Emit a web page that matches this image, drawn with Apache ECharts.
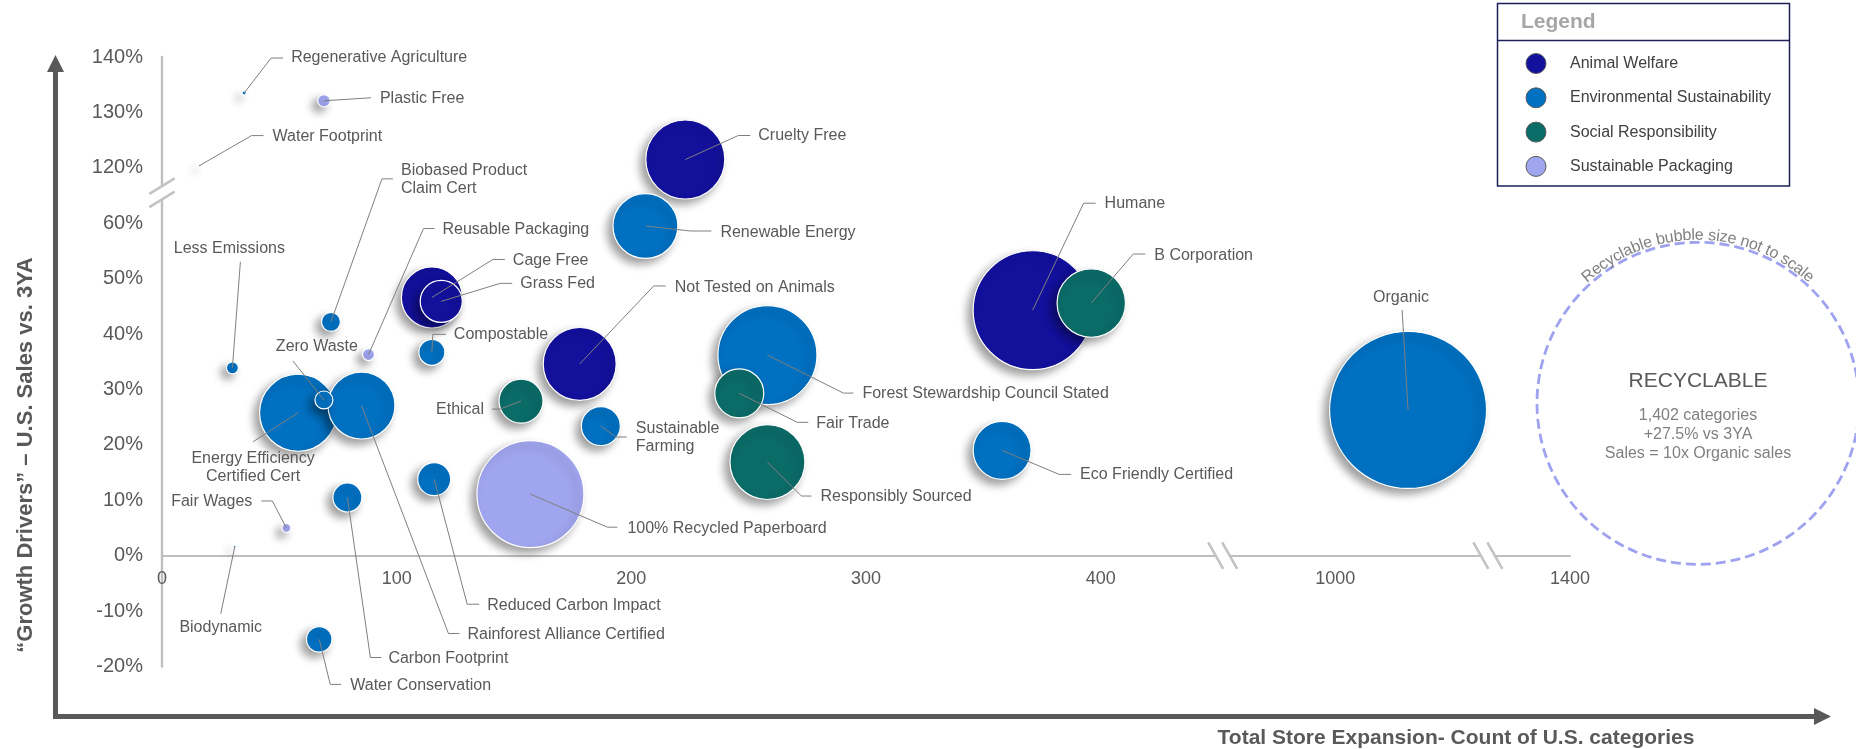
<!DOCTYPE html>
<html>
<head>
<meta charset="utf-8">
<script src="https://cdn.jsdelivr.net/npm/echarts@6/dist/echarts.min.js"></script>
<style>
  html, body { margin: 0; padding: 0; background: #ffffff; }
  #chart { width: 1856px; height: 749px; }
</style>
</head>
<body>
<div id="chart"></div>
<script>
// ---------- data ----------
// Tick labels; each sits one even step along the drawn (broken) axis
const xTickLabels = [0, 100, 200, 300, 400, 1000, 1400];
const yTickLabels = [-20, -10, 0, 10, 20, 30, 40, 50, 60, 120, 130, 140];

const groupNames = ['Animal Welfare', 'Environmental Sustainability', 'Social Responsibility', 'Sustainable Packaging'];

const claimNames = [
  'Cruelty Free', 'Humane', 'Cage Free', 'Grass Fed', 'Not Tested on Animals',
  'Regenerative Agriculture', 'Water Footprint', 'Biobased Product Claim Cert', 'Less Emissions',
  'Compostable', 'Zero Waste', 'Energy Efficiency Certified Cert', 'Rainforest Alliance Certified',
  'Reduced Carbon Impact', 'Carbon Footprint', 'Water Conservation', 'Biodynamic', 'Renewable Energy',
  'Forest Stewardship Council Stated', 'Sustainable Farming', 'Eco Friendly Certified', 'Organic',
  'Ethical', 'B Corporation', 'Fair Trade', 'Responsibly Sourced',
  'Plastic Free', 'Reusable Packaging', 'Fair Wages', '100% Recycled Paperboard'
];
// index into groupNames
const claimGroup = [
  0, 0, 0, 0, 0,
  1, 1, 1, 1, 1, 1, 1, 1, 1, 1, 1, 1, 1, 1, 1, 1, 1,
  2, 2, 2, 2,
  3, 3, 3, 3
];
// total store expansion: count of U.S. categories
const categoryCount = [
  223, 371, 115, 119, 178,
  35, 16, 72, 30, 115, 69, 58, 85, 116, 79, 67, 31, 206, 258, 187, 358, 1124,
  153, 396, 246, 258,
  69, 88, 53, 157
];
// U.S. sales growth vs. 3YA, %
const salesGrowth = [
  121.5, 44.3, 46.6, 45.9, 34.6,
  133.5, 120.4, 42.2, 33.9, 36.7, 28.1, 25.8, 27.1, 13.8, 10.5, -15.1, 1.6, 59.5, 36.2, 23.4, 19.0, 26.3,
  27.9, 45.6, 29.3, 16.9,
  132.1, 36.3, 5.0, 11.1
];
// sales, indexed to Organic = 100 (bubble area)
const salesIndex = [
  25.3, 57.4, 15.1, 7.2, 21.6,
  0.07, 0.02, 1.46, 0.58, 2.74, 1.31, 24.1, 18.2, 4.42, 3.41, 2.64, 0.03, 17.1, 39.8, 6.17, 13.6, 100,
  7.85, 19.0, 9.74, 22.8,
  0.63, 0.58, 0.33, 46.4
];

// The off-scale Recyclable bubble
const recyclable = { categories: 1402, growth: 27.5, salesVsOrganic: 10 };

// ---------- styling & layout ----------
const FONT = '"Liberation Sans", Arial, Helvetica, sans-serif';
const groupColors = ['#13109c', '#0070c0', '#0b6b67', '#a0a5ef'];
const TEXT = '#595959';
const ORGANIC_DIAMETER = 157;           // px for sales index 100
const bubbleSize = s => ORGANIC_DIAMETER * Math.sqrt(s / 100);

// places of the "//" break marks, in axis steps
const xBreakAt = [452, 565];
const yBreakAt = [65.5];

// label leader lines: bend points and text anchor, px relative to the bubble centre
const callouts = {
  'Regenerative Agriculture':        { line: [[27, -35], [39, -35]], at: [47, -35], align: 'left' },
  'Plastic Free':                    { line: [[47, -3]], at: [56, -2], align: 'left' },
  'Water Footprint':                 { line: [[52, -30], [64, -30]], at: [73, -29], align: 'left' },
  'Biobased Product Claim Cert':     { line: [[51, -143], [62, -143]], at: [70, -142], align: 'left', wrap: 2 },
  'Reusable Packaging':              { line: [[55, -126], [66, -126]], at: [74, -125], align: 'left' },
  'Cage Free':                       { line: [[61, -38], [73, -38]], at: [81, -37], align: 'left' },
  'Grass Fed':                       { line: [[59, -18], [71, -18]], at: [79, -18], align: 'left' },
  'Compostable':                     { line: [[1, -18], [14, -18]], at: [22, -18], align: 'left' },
  'Less Emissions':                  { line: [[8, -106]], at: [-3, -119], align: 'center' },
  'Zero Waste':                      { line: [[-31, -39]], at: [-7, -53], align: 'center' },
  'Energy Efficiency Certified Cert':{ line: [[-45, 29]], at: [-45, 55], align: 'center', wrap: 2 },
  'Rainforest Alliance Certified':   { line: [[87, 228], [98, 228]], at: [106, 229], align: 'left' },
  'Reduced Carbon Impact':           { line: [[33, 125], [45, 125]], at: [53, 126], align: 'left' },
  'Carbon Footprint':                { line: [[23, 160], [34, 160]], at: [41, 161], align: 'left' },
  'Water Conservation':              { line: [[11, 45], [22, 45]], at: [31, 46], align: 'left' },
  'Fair Wages':                      { line: [[-14, -27], [-25, -27]], at: [-34, -26], align: 'right' },
  'Biodynamic':                      { line: [[-14, 67]], at: [-14, 81], align: 'center' },
  'Ethical':                         { line: [[-21, 8], [-29, 8]], at: [-37, 9], align: 'right' },
  '100% Recycled Paperboard':        { line: [[77, 33], [87, 33]], at: [97, 34], align: 'left' },
  'Cruelty Free':                    { line: [[53, -24], [65, -24]], at: [73, -24], align: 'left' },
  'Renewable Energy':                { line: [[45, 5], [66, 5]], at: [75, 7], align: 'left' },
  'Not Tested on Animals':           { line: [[74, -78], [86, -78]], at: [95, -76], align: 'left' },
  'Humane':                          { line: [[51, -107], [63, -107]], at: [72, -107], align: 'left' },
  'B Corporation':                   { line: [[42, -49], [54, -49]], at: [63, -47], align: 'left' },
  'Forest Stewardship Council Stated':{ line: [[76, 38], [86, 38]], at: [95, 38], align: 'left' },
  'Fair Trade':                      { line: [[58, 29], [69, 29]], at: [77, 30], align: 'left' },
  'Sustainable Farming':             { line: [[15, 11], [26, 11]], at: [35, 12], align: 'left', wrap: 1 },
  'Responsibly Sourced':             { line: [[34, 34], [44, 34]], at: [53, 35], align: 'left' },
  'Eco Friendly Certified':          { line: [[57, 24], [69, 24]], at: [78, 24], align: 'left' },
  'Organic':                         { line: [[-6, -100]], at: [-7, -112], align: 'center' }
};

// ---------- broken-axis scales ----------
// Real values are placed piecewise-linearly between the evenly spaced ticks.
function onTickScale(v, ticks, step, origin) {
  const n = ticks.length;
  let i = 0;
  while (i < n - 2 && v > ticks[i + 1]) i++;
  const t = (v - ticks[i]) / (ticks[i + 1] - ticks[i]);
  return origin + (i + t) * step;
}
const X_STEP = 100, Y_STEP = 10, Y_ORIGIN = yTickLabels[0];
const xPos = v => onTickScale(v, xTickLabels, X_STEP, 0);
const yPos = v => onTickScale(v, yTickLabels, Y_STEP, Y_ORIGIN);

function wrapName(name, words) {
  if (!words) return name;
  const w = name.split(' ');
  return w.slice(0, words).join(' ') + '\n' + w.slice(words).join(' ');
}

// ---------- series ----------
const bubbleSeries = groupNames.map((g, gi) => {
  const items = [];
  claimNames.forEach((n, i) => {
    if (claimGroup[i] === gi) items.push({ name: n, value: [xPos(categoryCount[i]), yPos(salesGrowth[i]), salesIndex[i]] });
  });
  items.sort((a, b) => b.value[2] - a.value[2]); // small bubbles drawn on top
  return {
    name: g,
    type: 'scatter',
    z: 2,
    clip: false,
    symbol: 'circle',
    symbolSize: v => bubbleSize(v[2]),
    itemStyle: {
      color: groupColors[gi],
      borderColor: '#ffffff',
      borderWidth: 1.2,
      opacity: 1,
      shadowBlur: 9,
      shadowColor: 'rgba(0,0,0,0.38)',
      shadowOffsetX: -5,
      shadowOffsetY: 5
    },
    emphasis: { disabled: true },
    data: items
  };
});

const calloutSeries = {
  type: 'custom',
  name: 'callouts',
  z: 5,
  silent: true,
  clip: false,
  encode: { x: 0, y: 1 },
  data: claimNames.map((n, i) => [xPos(categoryCount[i]), yPos(salesGrowth[i]), i]),
  renderItem(params, api) {
    const i = api.value(2);
    const name = claimNames[i];
    const c = callouts[name];
    const p = api.coord([api.value(0), api.value(1)]);
    const pts = [p].concat(c.line.map(o => [p[0] + o[0], p[1] + o[1]]));
    return {
      type: 'group',
      children: [
        { type: 'polyline', shape: { points: pts }, style: { stroke: '#7f7f7f', lineWidth: 1, fill: null } },
        {
          type: 'text',
          style: {
            text: wrapName(name, c.wrap),
            x: p[0] + c.at[0], y: p[1] + c.at[1],
            align: c.align, verticalAlign: 'middle',
            fill: TEXT, fontSize: 16, fontFamily: FONT, lineHeight: 18
          }
        }
      ]
    };
  }
};

const breakSeries = {
  type: 'custom',
  name: 'breaks',
  z: 4,
  silent: true,
  clip: false,
  encode: { x: 0, y: 1 },
  data: xBreakAt.map(d => [d, 0, 0]).concat(yBreakAt.map(d => [0, d, 1])),
  renderItem(params, api) {
    const p = api.coord([api.value(0), api.value(1)]);
    const isX = api.value(2) === 0;
    const stroke = { stroke: '#c3c3c3', lineWidth: 2.6 };
    let a, b;
    if (isX) {
      // two steep slashes across the horizontal axis
      const hw = 7.5, hh = 13.3, off = 7;
      a = [[p[0] - off - hw, p[1] - hh], [p[0] - off + hw, p[1] + hh]];
      b = [[p[0] + off - hw, p[1] - hh], [p[0] + off + hw, p[1] + hh]];
    } else {
      // two shallow slashes across the vertical axis
      const hw = 12.6, hh = 7.7, off = 6.6;
      a = [[p[0] - hw, p[1] - off + hh], [p[0] + hw, p[1] - off - hh]];
      b = [[p[0] - hw, p[1] + off + hh], [p[0] + hw, p[1] + off - hh]];
    }
    const gapPoly = [a[0], a[1], b[1], b[0]];
    return {
      type: 'group',
      children: [
        { type: 'polygon', shape: { points: gapPoly }, style: { fill: '#ffffff', stroke: null } },
        { type: 'line', shape: { x1: a[0][0], y1: a[0][1], x2: a[1][0], y2: a[1][1] }, style: stroke },
        { type: 'line', shape: { x1: b[0][0], y1: b[0][1], x2: b[1][0], y2: b[1][1] }, style: stroke }
      ]
    };
  }
};

// ---------- chart ----------
const chart = echarts.init(document.getElementById('chart'), null, { renderer: 'canvas' });
const GRID = { left: 162, right: 286, top: 57, bottom: 82.5 };

chart.setOption({
  backgroundColor: '#ffffff',
  animation: false,
  textStyle: { fontFamily: FONT },
  grid: Object.assign({ containLabel: false, outerBoundsMode: 'none' }, GRID),
  xAxis: {
    type: 'value',
    min: 0,
    max: (xTickLabels.length - 1) * X_STEP,
    interval: X_STEP,
    axisLine: { show: true, onZero: false, lineStyle: { color: '#bfbfbf', width: 2 } },
    axisTick: { show: false },
    splitLine: { show: false },
    axisLabel: {
      margin: 14, fontSize: 18, color: TEXT, fontFamily: FONT,
      showMinLabel: true, showMaxLabel: true,
      formatter: v => String(xTickLabels[Math.round(v / X_STEP)])
    }
  },
  yAxis: {
    type: 'value',
    min: Y_ORIGIN,
    max: Y_ORIGIN + (yTickLabels.length - 1) * Y_STEP,
    interval: Y_STEP,
    axisLine: { show: true, onZero: false, lineStyle: { color: '#bfbfbf', width: 2.4 } },
    axisTick: { show: false },
    splitLine: { show: false },
    axisLabel: {
      margin: 19, fontSize: 20, color: TEXT, fontFamily: FONT,
      showMinLabel: true, showMaxLabel: true,
      formatter: v => yTickLabels[Math.round((v - Y_ORIGIN) / Y_STEP)] + '%'
    }
  },
  legend: {
    data: groupNames,
    orient: 'vertical',
    left: 1525.5,
    top: 53,
    padding: 0,
    itemWidth: 20,
    itemHeight: 20,
    itemGap: 13.3,
    icon: 'circle',
    selectedMode: false,
    textStyle: { fontSize: 16, color: '#404040', fontFamily: FONT, padding: [0, 0, 0, 19] },
    itemStyle: { borderColor: '#5a5a5a', borderWidth: 1, shadowBlur: 0, shadowOffsetX: 0, shadowOffsetY: 0 }
  },
  series: bubbleSeries.concat([breakSeries, calloutSeries])
});

// Lift the category axis so it crosses the value axis at 0%
const zeroY = chart.convertToPixel({ gridIndex: 0 }, [0, 0])[1];
const gridBottomY = 749 - GRID.bottom;
chart.setOption({ xAxis: { offset: zeroY - gridBottomY } });

// ---------- annotations ----------
const recY = chart.convertToPixel({ gridIndex: 0 }, [0, yPos(recyclable.growth)])[1];
const recX = 1698, recR = 161;

// curved caption above the Recyclable bubble
const arcText = 'Recyclable bubble size not to scale';
const measureCtx = document.createElement('canvas').getContext('2d');
measureCtx.font = '16px ' + FONT;
const arcR = 168;
const widths = Array.from(arcText).map(ch => measureCtx.measureText(ch).width);
const total = widths.reduce((s, w) => s + w, 0);
let acc = 0;
const arcChars = Array.from(arcText).map((ch, k) => {
  const theta = (acc + widths[k] / 2 - total / 2) / arcR;
  acc += widths[k];
  return {
    type: 'text',
    x: recX + arcR * Math.sin(theta),
    y: recY - arcR * Math.cos(theta),
    rotation: -theta,
    silent: true,
    style: { text: ch, fill: '#808080', fontSize: 16, fontFamily: FONT, align: 'center', verticalAlign: 'middle' }
  };
});

const fmtInt = n => n.toLocaleString('en-US');
const AXIS_DARK = '#595959';

chart.setOption({
  graphic: {
    elements: [
      // axis arrows
      { type: 'line', silent: true, shape: { x1: 55.5, y1: 719, x2: 55.5, y2: 70 }, style: { stroke: AXIS_DARK, lineWidth: 5 } },
      { type: 'polygon', silent: true, shape: { points: [[47, 72], [64, 72], [55.5, 55]] }, style: { fill: AXIS_DARK } },
      { type: 'line', silent: true, shape: { x1: 53, y1: 716.5, x2: 1816, y2: 716.5 }, style: { stroke: AXIS_DARK, lineWidth: 5 } },
      { type: 'polygon', silent: true, shape: { points: [[1814, 708], [1814, 725], [1831, 716.5]] }, style: { fill: AXIS_DARK } },
      // axis titles
      {
        type: 'text', silent: true, x: 26, y: 455, rotation: Math.PI / 2,
        style: { text: '\u201CGrowth Drivers\u201D \u2013 U.S. Sales vs. 3YA', fill: TEXT, fontSize: 22, fontWeight: 'bold', fontFamily: FONT, align: 'center', verticalAlign: 'middle' }
      },
      {
        type: 'text', silent: true, x: 1456, y: 738,
        style: { text: 'Total Store Expansion- Count of U.S. categories', fill: TEXT, fontSize: 21, fontWeight: 'bold', fontFamily: FONT, align: 'center', verticalAlign: 'middle' }
      },
      // legend frame
      { type: 'rect', silent: true, z: -1, shape: { x: 1497.5, y: 3.5, width: 292, height: 182.5 }, style: { fill: '#ffffff', stroke: '#1e1e5a', lineWidth: 1.5 } },
      { type: 'line', silent: true, shape: { x1: 1497.5, y1: 40.5, x2: 1789.5, y2: 40.5 }, style: { stroke: '#1e1e5a', lineWidth: 1.5 } },
      { type: 'text', silent: true, x: 1521, y: 22, style: { text: 'Legend', fill: '#a6a6a6', fontSize: 21, fontWeight: 'bold', fontFamily: FONT, align: 'left', verticalAlign: 'middle' } },
      // Recyclable bubble (not to scale)
      { type: 'circle', silent: true, shape: { cx: recX, cy: recY, r: recR }, style: { fill: null, stroke: '#9ea2ef', lineWidth: 2.8, lineDash: [10, 5] } },
      { type: 'text', silent: true, x: recX, y: recY - 22, style: { text: 'RECYCLABLE', fill: TEXT, fontSize: 21, fontFamily: FONT, align: 'center', verticalAlign: 'middle' } },
      {
        type: 'text', silent: true, x: recX, y: recY + 31,
        style: {
          text: fmtInt(recyclable.categories) + ' categories\n+' + recyclable.growth + '% vs 3YA\nSales = ' + recyclable.salesVsOrganic + 'x Organic sales',
          fill: '#808080', fontSize: 16, lineHeight: 19, fontFamily: FONT, align: 'center', verticalAlign: 'middle'
        }
      }
    ].concat(arcChars)
  }
});
</script>
</body>
</html>
